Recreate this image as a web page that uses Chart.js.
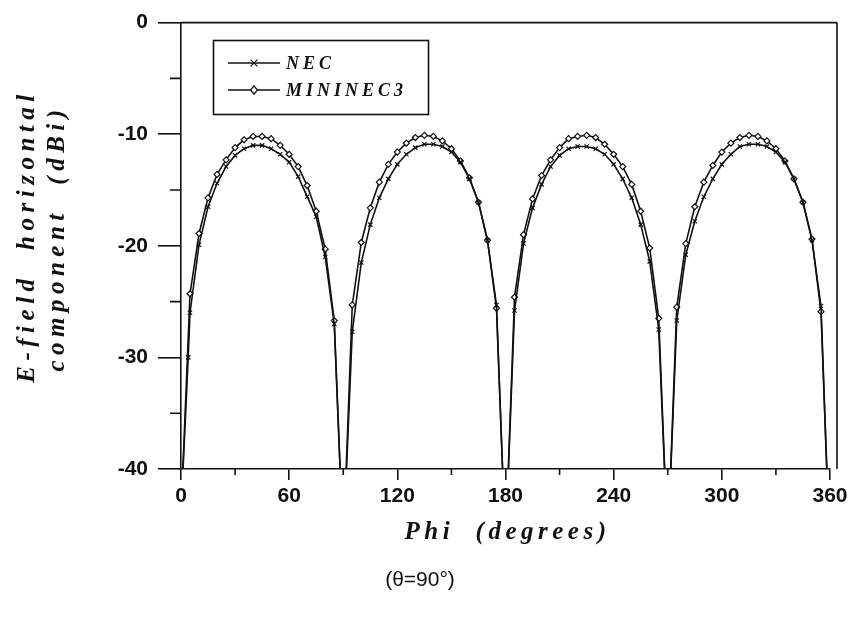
<!DOCTYPE html>
<html><head><meta charset="utf-8">
<script src="https://cdn.jsdelivr.net/npm/chart.js@4/dist/chart.umd.min.js"></script>
<style>html,body{margin:0;padding:0;background:#fff;}canvas{display:block;}</style>
</head><body>
<canvas id="c" width="855" height="623"></canvas>
<script>
// ---- data ----
const phi = [0,5,10,15,20,25,30,35,40,45,50,55,60,65,70,75,80,85,90,
  95,100,105,110,115,120,125,130,135,140,145,150,155,160,165,170,175,180,
  185,190,195,200,205,210,215,220,225,230,235,240,245,250,255,260,265,270,
  275,280,285,290,295,300,305,310,315,320,325,330,335,340,345,350,355,360];
const mininec3Db = [-44,-24.3,-18.9,-15.7,-13.6,-12.3,-11.2,-10.5,-10.2,-10.2,-10.4,-11.0,-11.8,-12.9,-14.6,-16.9,-20.3,-26.7,-47,
  -25.3,-19.7,-16.6,-14.3,-12.7,-11.6,-10.8,-10.3,-10.1,-10.2,-10.6,-11.3,-12.4,-13.9,-16.1,-19.5,-25.6,-47,
  -24.6,-19.0,-15.8,-13.7,-12.3,-11.2,-10.4,-10.2,-10.1,-10.3,-10.9,-11.8,-12.9,-14.5,-16.9,-20.2,-26.5,-47,
  -25.5,-19.8,-16.5,-14.3,-12.8,-11.6,-10.8,-10.3,-10.1,-10.2,-10.6,-11.3,-12.4,-14.0,-16.1,-19.4,-25.9,-48];
const necPhi = [0,4,5,10,15,20,25,30,35,40,45,50,55,60,65,70,75,80,85,90,
  95,100,105,110,115,120,125,130,135,140,145,150,155,160,165,170,175,180,
  185,190,195,200,205,210,215,220,225,230,235,240,245,250,255,260,265,270,
  275,280,285,290,295,300,305,310,315,320,325,330,335,340,345,350,355,360];
const necDb = [-44,-30,-26.0,-19.9,-16.5,-14.4,-12.9,-11.9,-11.3,-11.0,-11.0,-11.3,-11.8,-12.5,-13.8,-15.6,-17.4,-21.0,-27.0,-47,
  -27.7,-21.5,-18.1,-15.7,-14.0,-12.7,-11.8,-11.2,-10.9,-10.9,-11.1,-11.6,-12.5,-14.0,-16.1,-19.5,-25.3,-47,
  -25.8,-19.8,-16.6,-14.5,-12.9,-11.9,-11.3,-11.1,-11.1,-11.3,-11.8,-12.7,-14.0,-15.7,-18.1,-21.4,-27.5,-47,
  -26.7,-20.8,-17.8,-15.6,-14.0,-12.7,-11.8,-11.1,-10.9,-10.9,-11.1,-11.6,-12.5,-14.0,-16.1,-19.5,-25.4,-48];
const xTicks = [0,60,120,180,240,300,360];
const xMinorTicks = [30,90,150,210,270,330];
const yTicks = [0,-10,-20,-30,-40];
const yMinorTicks = [-5,-15,-25,-35];
const seriesLabels = ['NEC','MININEC3'];
const xTitle = 'Phi  (degrees)';
const yTitleLines = ['E-field  horizontal','component  (dBi)'];
const subtitle = '(\u03B8=90\u00B0)';

// ---- drawing ----
const ink = '#111';
const hideBelow = c => (c.raw && c.raw.y < -40) ? 0 : 3;

function drawMarker(ctx, style, x, y, r, fill) {
  ctx.beginPath();
  if (style === 'crossRot') {
    ctx.moveTo(x - r, y - r); ctx.lineTo(x + r, y + r);
    ctx.moveTo(x + r, y - r); ctx.lineTo(x - r, y + r);
    ctx.stroke();
  } else {
    ctx.moveTo(x, y - r - 0.8); ctx.lineTo(x + r, y); ctx.lineTo(x, y + r + 0.8); ctx.lineTo(x - r, y); ctx.closePath();
    ctx.fillStyle = fill; ctx.fill(); ctx.stroke();
  }
}

const framePlugin = {
  id: 'frame',
  afterDraw(chart) {
    const ctx = chart.ctx, a = chart.chartArea;
    const xs = chart.scales.x, ys = chart.scales.y;
    ctx.save();
    ctx.strokeStyle = ink; ctx.lineWidth = 1.6;
    // top and right frame
    ctx.beginPath();
    ctx.moveTo(a.left, a.top); ctx.lineTo(a.right + 7, a.top);
    ctx.moveTo(a.right + 7, a.top); ctx.lineTo(a.right + 7, a.bottom);
    ctx.stroke();
    // minor ticks
    ctx.beginPath();
    yMinorTicks.forEach(v => { const y = ys.getPixelForValue(v); ctx.moveTo(a.left - 11, y); ctx.lineTo(a.left, y); });
    xMinorTicks.forEach(v => { const x = xs.getPixelForValue(v); ctx.moveTo(x, a.bottom); ctx.lineTo(x, a.bottom + 6); });
    ctx.stroke();

    // titles
    ctx.fillStyle = ink;
    ctx.textAlign = 'center'; ctx.textBaseline = 'middle';
    ctx.font = 'italic bold 25px "Liberation Serif"';
    ctx.letterSpacing = '4.5px';
    ctx.fillText(xTitle, (a.left + a.right) / 2 + 2, 533);
    ctx.letterSpacing = '5.5px';
    ctx.save();
    ctx.translate(28, 236); ctx.rotate(-Math.PI / 2);
    ctx.fillText(yTitleLines[0], 0, 0);
    ctx.restore();
    ctx.save();
    ctx.translate(58, 238); ctx.rotate(-Math.PI / 2);
    ctx.fillText(yTitleLines[1], 0, 0);
    ctx.restore();
    ctx.letterSpacing = '0px';
    ctx.font = '21px "Liberation Sans"';
    ctx.fillText(subtitle, 420, 580);

    // legend
    const lx = 213, ly = 40, lw = 215, lh = 74;
    ctx.lineWidth = 1.6;
    ctx.strokeRect(lx + 0.5, ly + 0.5, lw, lh);
    const rows = [63, 90];
    chart.data.datasets.forEach((ds, i) => {
      const y = rows[i];
      ctx.lineWidth = 1.5; ctx.strokeStyle = ink;
      ctx.beginPath(); ctx.moveTo(228, y); ctx.lineTo(280, y); ctx.stroke();
      ctx.lineWidth = 1.2;
      drawMarker(ctx, ds.pointStyle, 254, y, 3.4, '#fff');
      ctx.font = 'italic bold 18px "Liberation Serif"';
      ctx.letterSpacing = '4px';
      ctx.textAlign = 'left'; ctx.fillStyle = ink;
      ctx.fillText(ds.label, 286, y + 1);
      ctx.letterSpacing = '0px';
    });
    ctx.restore();
  }
};

new Chart(document.getElementById('c'), {
  type: 'line',
  data: {
    datasets: [
      { label: seriesLabels[0], data: necPhi.map((p, i) => ({ x: p, y: necDb[i] })),
        borderColor: ink, borderWidth: 1.6, tension: 0, pointStyle: 'crossRot',
        pointRadius: hideBelow, pointBorderWidth: 1.2, pointBorderColor: ink, pointBackgroundColor: ink },
      { label: seriesLabels[1], data: phi.map((p, i) => ({ x: p, y: mininec3Db[i] })),
        borderColor: ink, borderWidth: 1.6, tension: 0, pointStyle: 'rectRot',
        pointRadius: hideBelow, pointBorderWidth: 1.2, pointBorderColor: ink, pointBackgroundColor: '#fff' }
    ]
  },
  options: {
    responsive: false, animation: false,
    layout: { padding: { left: 0, top: 19, right: 25, bottom: 0 } },
    plugins: { legend: { display: false }, tooltip: { enabled: false } },
    scales: {
      x: {
        type: 'linear', min: 0, max: 360,
        afterBuildTicks: s => { s.ticks = xTicks.map(v => ({ value: v })); },
        ticks: { font: { family: 'Liberation Sans', weight: 'bold', size: 21 }, color: ink, padding: 4, maxRotation: 0, autoSkip: false },
        grid: { drawOnChartArea: false, drawTicks: true, tickLength: 11, color: ink, lineWidth: 1.6 },
        border: { display: true, color: ink, width: 1.6 },
        afterFit: s => { s.height = 154; }
      },
      y: {
        type: 'linear', min: -40, max: 0,
        afterBuildTicks: s => { s.ticks = yTicks.map(v => ({ value: v })); },
        ticks: { font: { family: 'Liberation Sans', weight: 'bold', size: 21 }, color: ink, padding: 10 },
        grid: { drawOnChartArea: false, drawTicks: true, tickLength: 23, color: ink, lineWidth: 1.6 },
        border: { display: true, color: ink, width: 1.6 },
        afterFit: s => { s.width = 181; }
      }
    }
  },
  plugins: [framePlugin]
});
</script>
</body></html>
